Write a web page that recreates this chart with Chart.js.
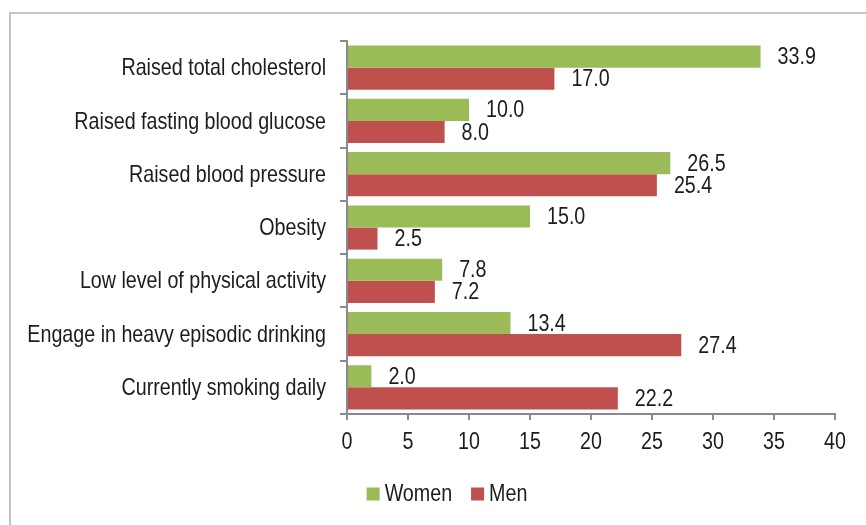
<!DOCTYPE html>
<html>
<head>
<meta charset="utf-8">
<script src="https://cdn.jsdelivr.net/npm/chart.js@4.4.1/dist/chart.umd.min.js"></script>
<style>
  html, body { margin: 0; padding: 0; background: #fff; }
  #wrap { width: 866px; height: 525px; position: relative; }
</style>
</head>
<body>
<div id="wrap"><canvas id="riskChart" width="866" height="525"></canvas></div>
<script>
const categories = [
    'Raised total cholesterol',
    'Raised fasting blood glucose',
    'Raised blood pressure',
    'Obesity',
    'Low level of physical activity',
    'Engage in heavy episodic drinking',
    'Currently smoking daily'
];
const women = [33.9, 10.0, 26.5, 15.0, 7.8, 13.4, 2.0];
const men = [17.0, 8.0, 25.4, 2.5, 7.2, 27.4, 22.2];
const xTicks = [0, 5, 10, 15, 20, 25, 30, 35, 40];

const FONT = "24px 'Liberation Sans', Arial, sans-serif";
const NARROW = 0.82;          // horizontal squeeze to get an Arial Narrow look
const AXIS = '#8a8a8a';
const TEXT = '#1c1c1c';

function narrowText(c, text, x, y, align) {
    c.save();
    c.translate(x, y);
    c.scale(NARROW, 1);
    c.textAlign = align;
    c.fillText(text, 0, 0);
    c.restore();
}

// light grey frame around the figure (open at right and bottom)
const framePlugin = {
    id: 'frame',
    beforeDraw(chart) {
        const c = chart.ctx;
        c.save();
        c.strokeStyle = '#c4c4c4';
        c.lineWidth = 2;
        c.beginPath();
        c.moveTo(10, 530);
        c.lineTo(10, 13);
        c.lineTo(870, 13);
        c.stroke();
        c.restore();
    }
};

// all text: category labels, axis numbers, bar values and the legend
const textPlugin = {
    id: 'narrowText',
    afterDraw(chart) {
        const c = chart.ctx;
        const xs = chart.scales.x, ys = chart.scales.y;
        c.save();
        c.font = FONT;
        c.fillStyle = TEXT;
        c.textBaseline = 'middle';

        categories.forEach((lab, i) => {
            narrowText(c, lab, 326, ys.getPixelForValue(i) + 1, 'right');
        });

        xTicks.forEach(v => {
            narrowText(c, String(v), xs.getPixelForValue(v), 442, 'center');
        });

        chart.data.datasets.forEach((ds, i) => {
            chart.getDatasetMeta(i).data.forEach((bar, j) => {
                narrowText(c, ds.data[j].toFixed(1), bar.x + 17, bar.y + 1, 'left');
            });
        });

        // legend row
        const box = 13, gap = 5, spacing = 19;
        const items = chart.data.datasets.map(ds => ({
            label: ds.label, color: ds.backgroundColor,
            w: c.measureText(ds.label).width * NARROW
        }));
        let total = items.reduce((s, it) => s + box + gap + it.w, 0) + spacing * (items.length - 1);
        let x = 447 - total / 2;
        const ly = 494;
        items.forEach(it => {
            c.fillStyle = it.color;
            c.fillRect(x, ly - box / 2, box, box);
            c.fillStyle = TEXT;
            narrowText(c, it.label, x + box + gap, ly, 'left');
            x += box + gap + it.w + spacing;
        });
        c.restore();
    }
};

new Chart(document.getElementById('riskChart').getContext('2d'), {
    type: 'bar',
    data: {
        labels: categories,
        datasets: [
            { label: 'Women', data: women, backgroundColor: '#9bbb59' },
            { label: 'Men', data: men, backgroundColor: '#c0504d' }
        ]
    },
    options: {
        indexAxis: 'y',
        responsive: false,
        animation: false,
        events: [],
        layout: { padding: { top: 41, right: 31, left: 0, bottom: 51 } },
        datasets: { bar: { categoryPercentage: 0.83, barPercentage: 1.0 } },
        scales: {
            x: {
                min: 0, max: 40,
                afterBuildTicks: (s) => { s.ticks = xTicks.map(v => ({ value: v })); },
                afterFit: (s) => { s.height = 60; },
                grid: { drawOnChartArea: false, color: AXIS, lineWidth: 2, tickLength: 6 },
                border: { color: AXIS, width: 2 },
                ticks: { display: false }
            },
            y: {
                afterFit: (s) => { s.width = 347; },
                grid: { drawOnChartArea: false, color: AXIS, lineWidth: 2, tickLength: 7, offset: true },
                border: { color: AXIS, width: 2 },
                ticks: { display: false }
            }
        },
        plugins: {
            legend: { display: false },
            tooltip: { enabled: false }
        }
    },
    plugins: [framePlugin, textPlugin]
});
</script>
</body>
</html>
